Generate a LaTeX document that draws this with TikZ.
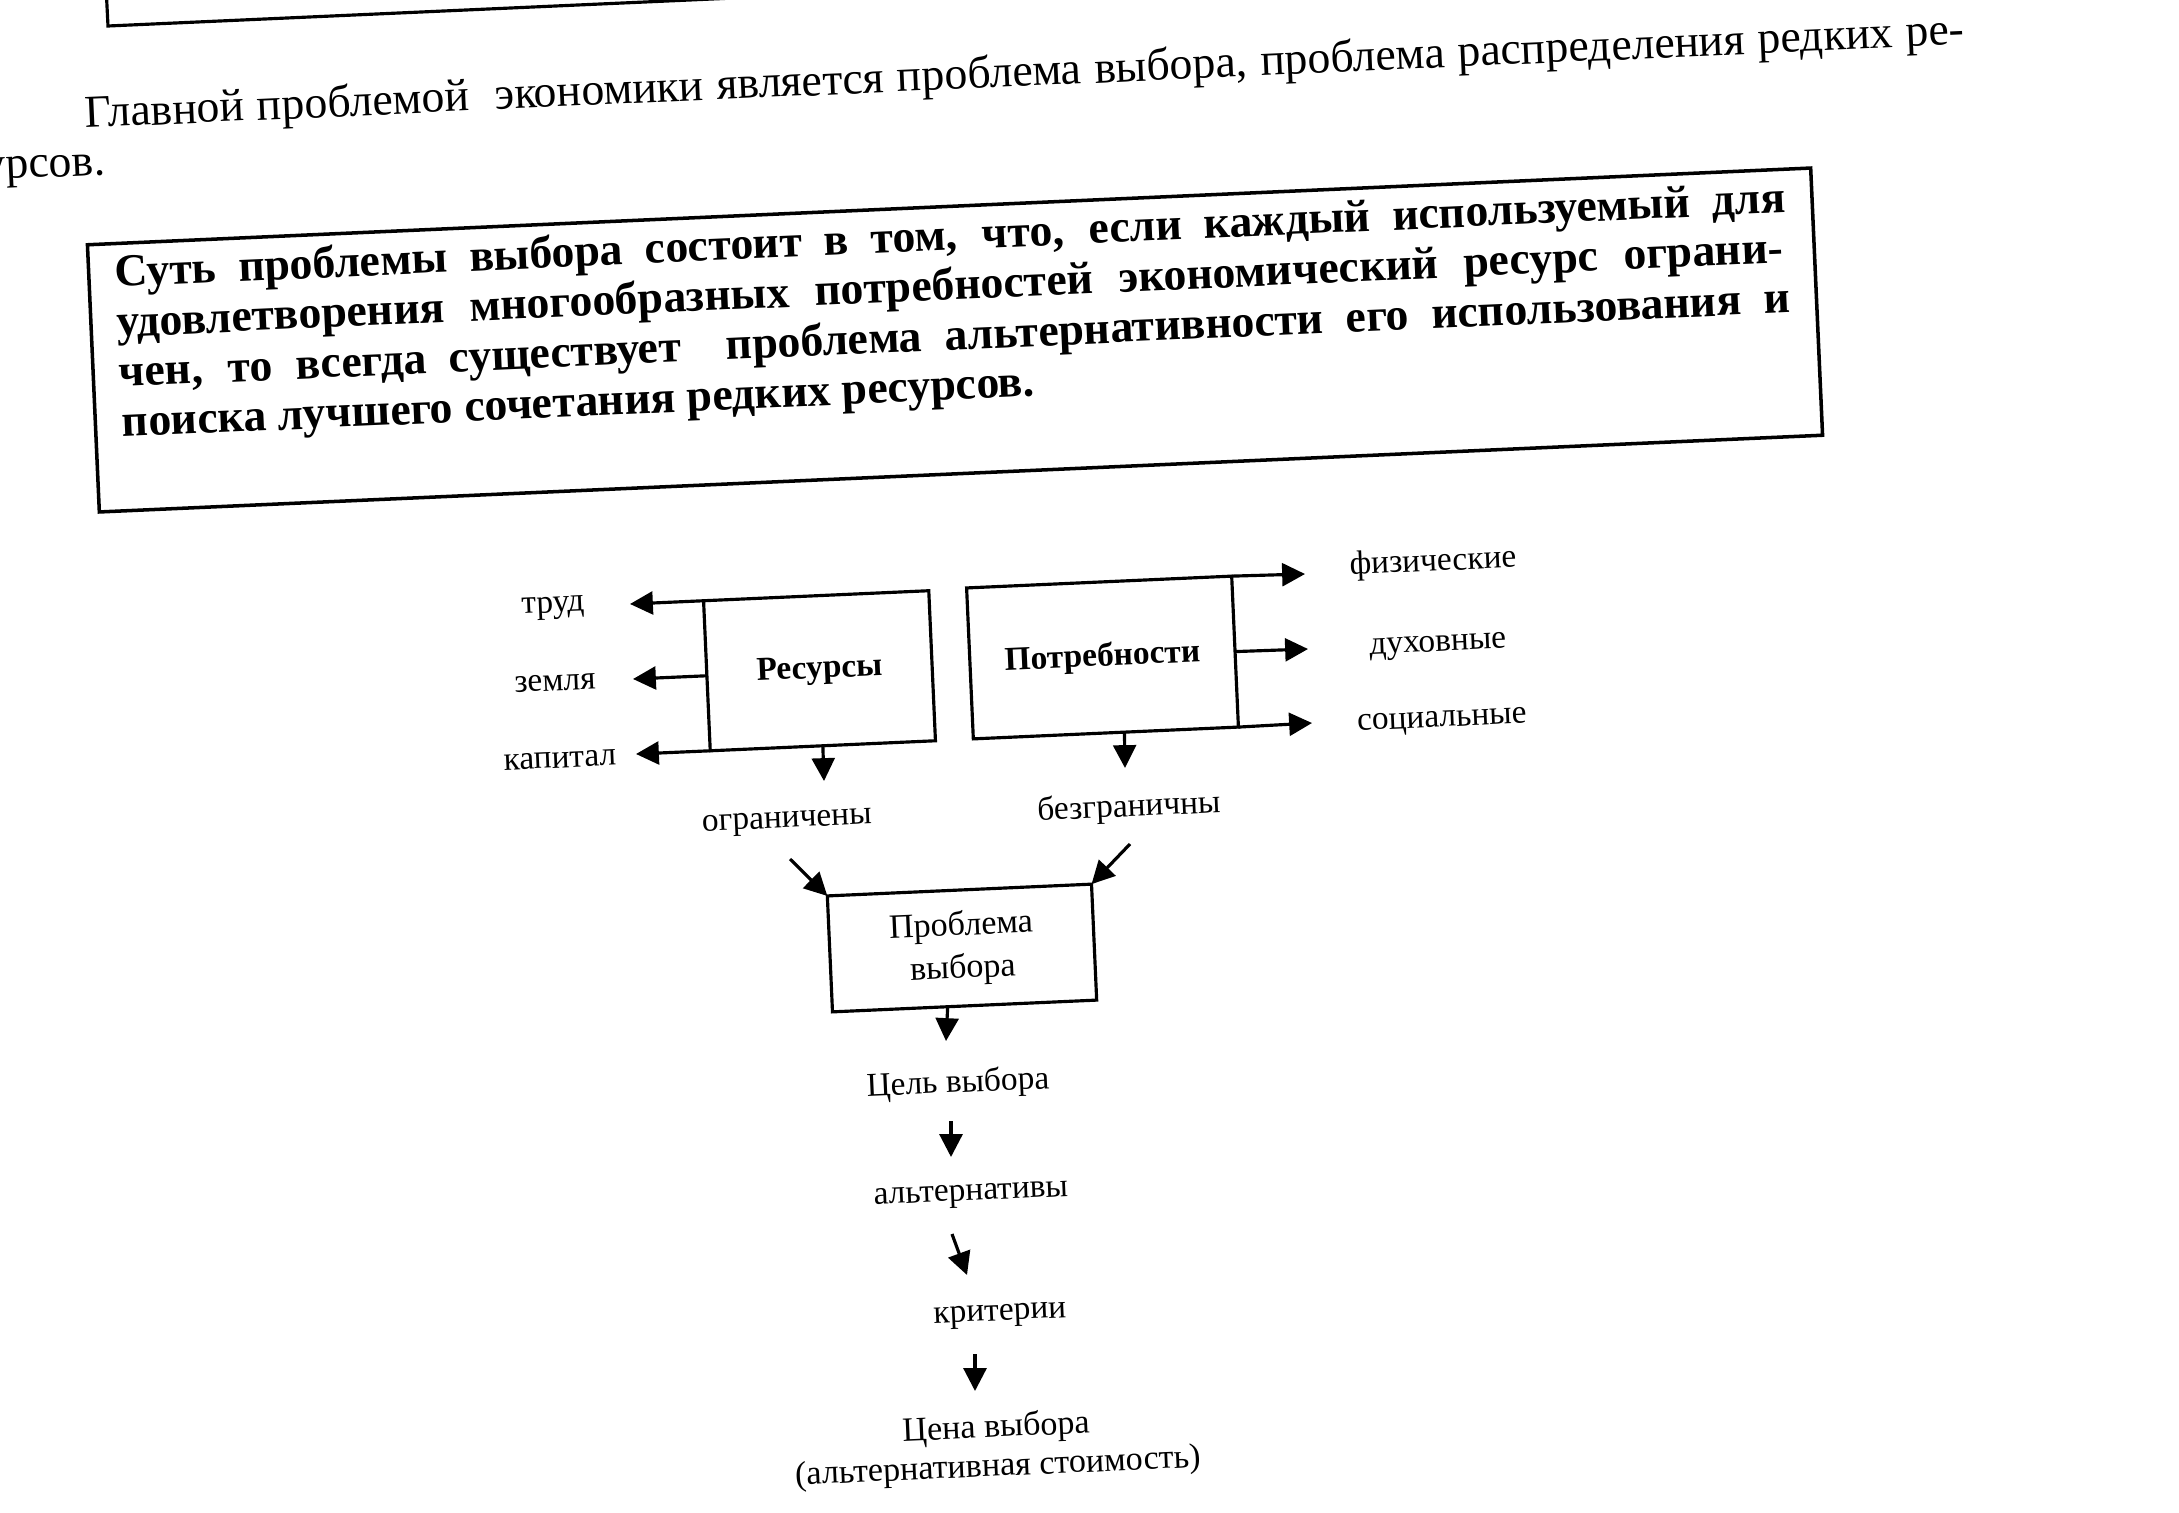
\documentclass[tikz,border=0pt]{standalone}
\usepackage{fontspec}
\setmainfont{Liberation Serif}
\usetikzlibrary{arrows.meta,calc}
\begin{document}
\begin{tikzpicture}[x=0.01cm,y=-0.01cm,
  box/.style={draw,line width=0.9pt,rotate=2.55,inner sep=0pt,outer sep=0pt},
  lbl/.style={rotate=2.55,inner sep=0pt,font=\fontsize{9.5}{11}\selectfont},
  arr/.style={line width=0.9pt,-{Triangle[length=6.5pt,width=6.5pt]}},
  para/.style={rotate=2.55,inner sep=0pt,anchor=base west,font=\fontsize{13}{15}\selectfont},
  bpara/.style={rotate=2.55,inner sep=0pt,anchor=base west,font=\fontsize{13}{15}\selectfont\bfseries}]

\fill[white] (0,0) rectangle (2179,1512);
\useasboundingbox (0,0) rectangle (2179,1512);
\clip (0,0) rectangle (2179,1512);

% partial box at the top
\coordinate (tbU) at (103,-74);
\coordinate (tbC) at (108,26);
\coordinate (tbR) at (1607,-41);
\draw[line width=0.9pt] (tbU) -- (tbC) -- (tbR);

% paragraph
\node[para] (p1) at (85,128) {\makebox[18.8cm][s]{Главной проблемой\ \ экономики является проблема выбора, проблема распределения редких ре-}};
\node[para] (p2) at (-17,180) {урсов.};

% bold definition box
\node[box, line width=1pt, minimum width=17.24cm, minimum height=2.673cm] (bbox) at (955,340) {};
\node[bpara] (b1) at (115,287) {\makebox[16.71cm][s]{Суть проблемы выбора состоит в том, что, если каждый используемый для}};
\node[bpara] (b2) at (117,337) {\makebox[16.67cm][s]{удовлетворения многообразных потребностей экономический ресурс ограни-}};
\node[bpara] (b3) at (119,387) {\makebox[16.72cm][s]{чен, то всегда существует\ \ проблема альтернативности его использования и}};
\node[bpara] (b4) at (122,437) {поиска лучшего сочетания редких ресурсов.};

% diagram boxes
\node[box, minimum width=2.253cm, minimum height=1.501cm, font=\fontsize{9.5}{11}\selectfont\bfseries] (res) at (819.5,670.75) {Ресурсы};
\node[box, minimum width=2.652cm, minimum height=1.51cm, font=\fontsize{9.5}{11}\selectfont\bfseries] (potr) at (1102.5,657.5) {Потребности};
\node[box, minimum width=2.643cm, minimum height=1.16cm, align=center, font=\fontsize{9.7}{12.2}\selectfont] (prob) at (962,948) {Проблема\\выбора};

% labels
\node[lbl] (trud) at (553,608) {труд};
\node[lbl] (zem) at (555,683) {земля};
\node[lbl] (kap) at (560,760) {капитал};
\node[lbl] (ogr) at (787,823) {ограничены};
\node[lbl] (bez) at (1129,808) {безграничны};
\node[lbl] (fiz) at (1433,563) {физические};
\node[lbl] (duh) at (1438,647) {духовные};
\node[lbl] (soc) at (1442,722) {социальные};
\node[lbl] (cel) at (958,1084) {Цель выбора};
\node[lbl] (alt) at (971,1196) {альтернативы};
\node[lbl] (krit) at (1000,1316) {критерии};
\node[lbl, align=center, font=\fontsize{9.7}{11.1}\selectfont] (cena) at (997,1448) {Цена выбора\\(альтернативная стоимость)};

% arrow end points
\coordinate (tTrud) at (630,604);
\coordinate (tZem) at (633,679);
\coordinate (tKap) at (636,754);
\coordinate (tFiz) at (1305,574);
\coordinate (tDuh) at (1308,649);
\coordinate (tSoc) at (1312,723);
\coordinate (tResD) at (824,781);
\coordinate (tPotD) at (1125,768);
\coordinate (sOgr) at (790,859);
\coordinate (sBez) at (1130,844);
\coordinate (tProbD) at (946,1041);
\coordinate (sCel) at (951,1121);
\coordinate (tCel) at (951,1157);
\coordinate (sAlt) at (952,1234);
\coordinate (tAlt) at (967,1275);
\coordinate (sKrit) at (975,1354);
\coordinate (tKrit) at (975,1391);

% connectors
\draw[arr] (res.north west) -- (tTrud);
\draw[arr] (res.west) -- (tZem);
\draw[arr] (res.south west) -- (tKap);
\draw[arr] (potr.north east) -- (tFiz);
\draw[arr] (potr.east) -- (tDuh);
\draw[arr] (potr.south east) -- (tSoc);
\draw[arr] (res.south) -- (tResD);
\draw[arr] ($(potr.south west)!0.57!(potr.south east)$) -- (tPotD);
\draw[arr] (sOgr) -- (prob.north west);
\draw[arr] (sBez) -- (prob.north east);
\draw[arr] ($(prob.south west)!0.436!(prob.south east)$) -- (tProbD);
\draw[arr] (sCel) -- (tCel);
\draw[arr] (sAlt) -- (tAlt);
\draw[arr] (sKrit) -- (tKrit);
\end{tikzpicture}
\end{document}
